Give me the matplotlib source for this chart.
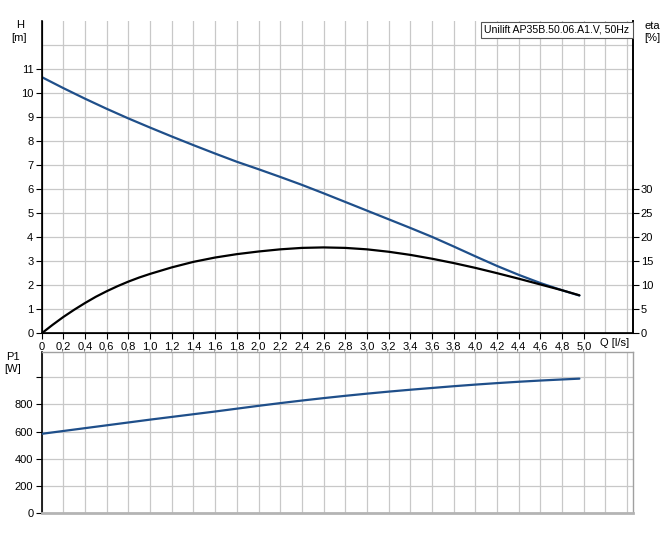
import matplotlib

matplotlib.use("Agg")
import matplotlib.pyplot as plt
from matplotlib.patches import Rectangle
from matplotlib.ticker import FixedLocator, NullFormatter

plt.rcParams["font.family"] = ["Liberation Sans", "DejaVu Sans"]
plt.rcParams["font.size"] = 8

# flow [l/s] for head / power curves
q = [0.0, 0.2, 0.4, 0.6, 0.8, 1.0, 1.2, 1.4, 1.6, 1.8, 2.0, 2.2, 2.4, 2.6,
     2.8, 3.0, 3.2, 3.4, 3.6, 3.8, 4.0, 4.2, 4.4, 4.6, 4.8, 4.96]
# head [m]
head = [10.65, 10.19, 9.75, 9.33, 8.93, 8.55, 8.18, 7.82, 7.47, 7.13, 6.82,
        6.50, 6.17, 5.82, 5.46, 5.10, 4.74, 4.38, 4.01, 3.61, 3.20, 2.80,
        2.43, 2.09, 1.79, 1.57]
# power input [W]
p1 = [583, 604, 625, 646, 667, 688, 708, 728, 748, 769, 790, 810, 829, 847,
      864, 880, 895, 909, 922, 935, 947, 958, 968, 977, 985, 991]

# flow [l/s] for efficiency curve (denser where it bends)
q_eta = [0.0, 0.1, 0.2, 0.3, 0.4, 0.5, 0.6, 0.7, 0.8, 0.9, 1.0, 1.2, 1.4,
         1.6, 1.8, 2.0, 2.2, 2.4, 2.6, 2.8, 3.0, 3.2, 3.4, 3.6, 3.8, 4.0,
         4.2, 4.4, 4.6, 4.8, 4.96]
# efficiency [%]
eta = [0.0, 1.75, 3.4, 4.9, 6.3, 7.6, 8.75, 9.8, 10.75, 11.6, 12.35, 13.7,
       14.85, 15.75, 16.45, 17.0, 17.45, 17.75, 17.85, 17.75, 17.45, 16.95,
       16.3, 15.5, 14.6, 13.6, 12.5, 11.35, 10.15, 8.95, 7.9]

q_ticks = [i * 0.2 for i in range(26)]
q_labels = ["0"] + [f"{v:.1f}".replace(".", ",") for v in q_ticks[1:]]
q_grid = [i * 0.2 for i in range(28)]
title = "Unilift AP35B.50.06.A1.V, 50Hz"

BLUE = "#1f4f8a"
GRID = "#c8c8c8"
XMAX = 5.45
W, H = 668, 537


def fx(px):
    return px / W


def fy(py):
    return 1 - py / H


fig = plt.figure(figsize=(W / 100, H / 100), dpi=100)

# --- H / eta chart ---
ax = fig.add_axes([0.0624, 0.3793, 0.8845, 0.5825])
ax.plot(q, head, color=BLUE, lw=1.6, solid_capstyle="round", zorder=3)
ax.set_xlim(0, XMAX)
ax.set_ylim(0, 13)
ax.xaxis.set_major_locator(FixedLocator(q_ticks))
ax.set_xticklabels(q_labels)
ax.xaxis.set_minor_locator(FixedLocator(q_grid))
ax.set_yticks(range(12))
ax.yaxis.set_minor_locator(FixedLocator(range(13)))
ax.grid(True, which="both", color=GRID, lw=0.9)
ax.tick_params(which="minor", length=0)
ax.tick_params(which="major", length=4, width=0.8, pad=2, labelsize=8)
ax.spines["top"].set_visible(False)
for s in ("left", "bottom", "right"):
    ax.spines[s].set_linewidth(1.2)
ax.set_axisbelow(True)

ax2 = ax.twinx()
ax2.plot(q_eta, eta, color="black", lw=1.6, solid_capstyle="round", zorder=3)
ax2.set_ylim(0, 65)
ax2.set_yticks(range(0, 31, 5))
ax2.tick_params(length=4, width=0.8, pad=2, labelsize=8)
ax2.spines["top"].set_visible(False)
ax2.spines["right"].set_linewidth(1.2)

# model label box in the top right corner
fig.patches.append(Rectangle((fx(481), fy(37.5)), fx(632.5) - fx(481),
                             fy(21.5) - fy(37.5), transform=fig.transFigure,
                             fc="white", ec="#555555", lw=0.8, zorder=5))
fig.text(fx(557), fy(29.5), title, ha="center", va="center", fontsize=7.6,
         zorder=6)

fig.text(fx(20), fy(25), "H", ha="center", va="center")
fig.text(fx(19), fy(38), "[m]", ha="center", va="center")
fig.text(fx(652), fy(26), "eta", ha="center", va="center")
fig.text(fx(652), fy(38), "[%]", ha="center", va="center")
fig.text(fx(615), fy(343.5), "Q [l/s]", ha="center", va="center")

# --- P1 chart ---
bx = fig.add_axes([0.0624, 0.0453, 0.8845, 0.2997])
bx.plot(q, p1, color=BLUE, lw=1.6, solid_capstyle="round", zorder=3)
bx.set_xlim(0, XMAX)
bx.set_ylim(0, 1190)
bx.xaxis.set_major_locator(FixedLocator(q_grid))
bx.xaxis.set_major_formatter(NullFormatter())
bx.set_yticks(range(0, 1001, 200))
bx.set_yticklabels(["0", "200", "400", "600", "800", ""])
bx.grid(True, color=GRID, lw=0.9)
bx.tick_params(axis="x", length=0)
bx.tick_params(axis="y", length=4, width=0.8, pad=2, labelsize=8)
bx.spines["left"].set_linewidth(1.2)
bx.spines["bottom"].set_color("#b4b4b4")
bx.spines["bottom"].set_linewidth(2)
for s in ("top", "right"):
    bx.spines[s].set_color("#a0a0a0")
    bx.spines[s].set_linewidth(1)
bx.set_axisbelow(True)

fig.text(fx(13), fy(357), "P1", ha="center", va="center")
fig.text(fx(13), fy(369), "[W]", ha="center", va="center")

fig.savefig("out.png", dpi=100)
